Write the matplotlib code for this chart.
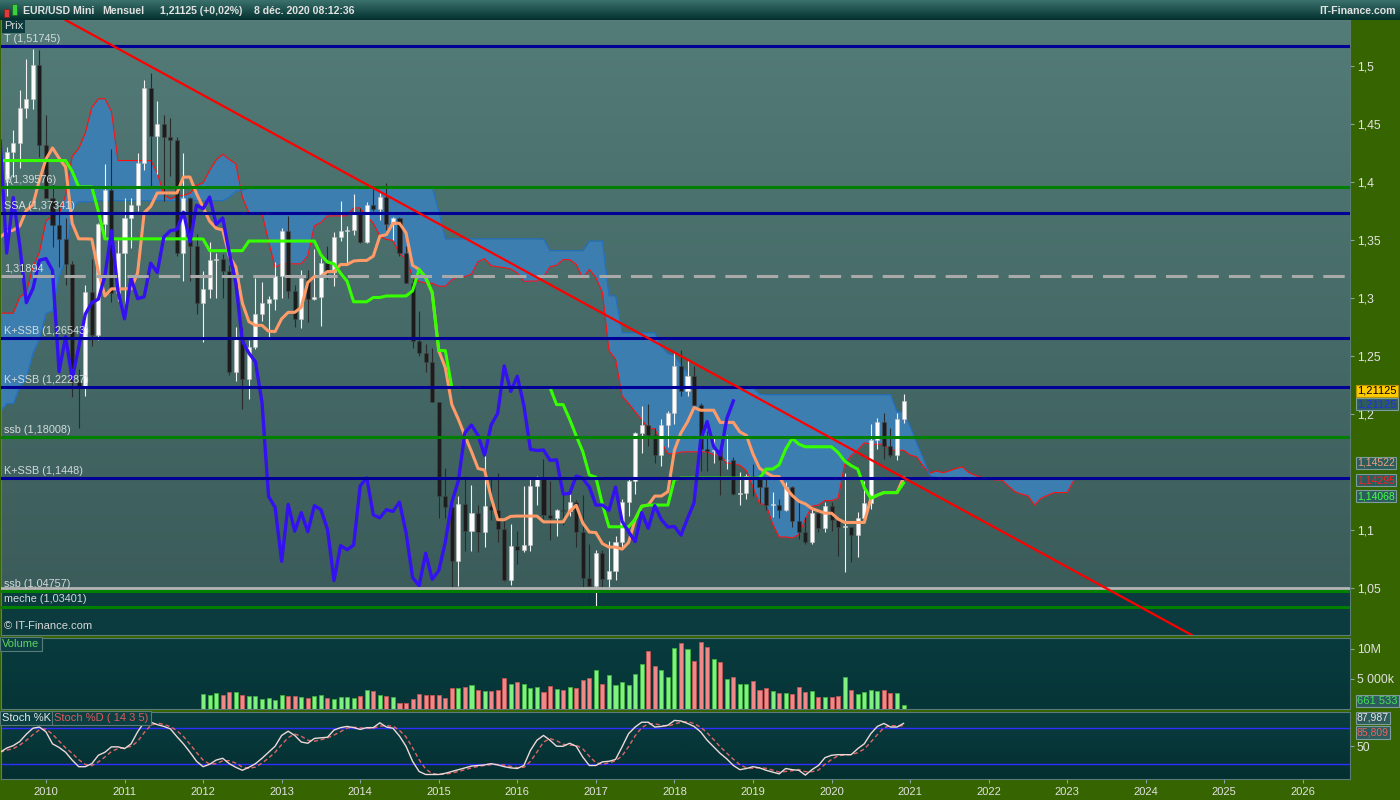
import numpy as np
import pandas as pd
import matplotlib
matplotlib.use('Agg')
import matplotlib.pyplot as plt
import matplotlib.colors as mcolors
from matplotlib.patches import Rectangle

plt.rcParams['font.family'] = ['Liberation Sans', 'DejaVu Sans']

##################################################### Dati

# bougies mensuelles EUR/USD, juillet 2009 -> decembre 2020
debut_bougies = '2009-07'
ouv = [1.4030, 1.4256, 1.4336, 1.4637, 1.4715, 1.5005,
       1.4321, 1.3863, 1.3629, 1.3510, 1.3294, 1.2273, 1.2236, 1.3049, 1.2680, 1.3634, 1.3929, 1.3045,
       1.3384, 1.3693, 1.3806, 1.4164, 1.4807, 1.4395, 1.4500, 1.4392, 1.4360, 1.3387, 1.3866, 1.3450,
       1.2960, 1.3080, 1.3325, 1.3340, 1.3237, 1.2365, 1.2666, 1.2302, 1.2575, 1.2860, 1.2960, 1.2990,
       1.3190, 1.3580, 1.3060, 1.2820, 1.3170, 1.2995, 1.3010, 1.3300, 1.3220, 1.3525, 1.3580, 1.3590,
       1.3740, 1.3485, 1.3800, 1.3770, 1.3870, 1.3635, 1.3690, 1.3390, 1.3130, 1.2630, 1.2525, 1.2450,
       1.2100, 1.1290, 1.1195, 1.0730, 1.1220, 1.0990, 1.1150, 1.0985, 1.1210, 1.1175, 1.1005, 1.0565,
       1.0865, 1.0830, 1.0870, 1.1380, 1.1450, 1.1130, 1.1105, 1.1175, 1.1160, 1.1240, 1.0980, 1.0590,
       1.0520, 1.0800, 1.0575, 1.0650, 1.0895, 1.1240, 1.1425, 1.1840, 1.1905, 1.1815, 1.1645, 1.1905,
       1.2005, 1.2415, 1.2195, 1.2325, 1.2075, 1.1695, 1.1685, 1.1690, 1.1600, 1.1605, 1.1310, 1.1315,
       1.1465, 1.1445, 1.1370, 1.1215, 1.1215, 1.1170, 1.1370, 1.1075, 1.0985, 1.0900, 1.1150, 1.1015,
       1.1210, 1.1090, 1.1025, 1.1030, 1.0955, 1.1100, 1.1235, 1.1775, 1.1935, 1.1720, 1.1645, 1.1960]
haut = [1.4306, 1.4446, 1.4793, 1.5062, 1.5144, 1.5140,
        1.4579, 1.3995, 1.3816, 1.3690, 1.3317, 1.2389, 1.3108, 1.3334, 1.3650, 1.4158, 1.4282, 1.3500,
        1.3862, 1.3862, 1.4249, 1.4882, 1.4940, 1.4699, 1.4578, 1.4548, 1.4386, 1.4247, 1.3870, 1.3550,
        1.3234, 1.3487, 1.3385, 1.3380, 1.3283, 1.2748, 1.2746, 1.2637, 1.3172, 1.3140, 1.3020, 1.3308,
        1.3600, 1.3711, 1.3110, 1.3240, 1.3240, 1.3420, 1.3345, 1.3452, 1.3570, 1.3832, 1.3620, 1.3893,
        1.3775, 1.3825, 1.3967, 1.3905, 1.3993, 1.3700, 1.3700, 1.3445, 1.3160, 1.2890, 1.2600, 1.2570,
        1.2100, 1.1535, 1.1240, 1.1290, 1.1465, 1.1385, 1.1215, 1.1715, 1.1460, 1.1495, 1.1095, 1.1050,
        1.0990, 1.1375, 1.1440, 1.1465, 1.1615, 1.1425, 1.1185, 1.1365, 1.1330, 1.1255, 1.1300, 1.0875,
        1.0830, 1.0830, 1.0905, 1.0950, 1.1270, 1.1445, 1.1845, 1.2070, 1.2090, 1.1880, 1.1960, 1.2025,
        1.2535, 1.2555, 1.2475, 1.2415, 1.2095, 1.1850, 1.1790, 1.1735, 1.1815, 1.1625, 1.1500, 1.1485,
        1.1570, 1.1490, 1.1450, 1.1325, 1.1265, 1.1410, 1.1380, 1.1250, 1.1110, 1.1180, 1.1175, 1.1240,
        1.1240, 1.1100, 1.1495, 1.1030, 1.1155, 1.1425, 1.1910, 1.1965, 1.2010, 1.1880, 1.2005, 1.2175]
bas = [1.3876, 1.4047, 1.4124, 1.4550, 1.4631, 1.4219,
       1.3858, 1.3443, 1.3267, 1.3114, 1.2144, 1.1876, 1.2153, 1.2588, 1.2640, 1.3530, 1.2969, 1.2970,
       1.2871, 1.3430, 1.3750, 1.4100, 1.3967, 1.4070, 1.3837, 1.4050, 1.3360, 1.3145, 1.3145, 1.2858,
       1.2624, 1.3000, 1.3003, 1.3000, 1.2332, 1.2288, 1.2042, 1.2130, 1.2560, 1.2800, 1.2660, 1.2900,
       1.3000, 1.3000, 1.2750, 1.2745, 1.2795, 1.2980, 1.2755, 1.3160, 1.3100, 1.3490, 1.3295, 1.3540,
       1.3475, 1.3475, 1.3750, 1.3670, 1.3590, 1.3500, 1.3365, 1.3130, 1.2570, 1.2500, 1.2360, 1.2100,
       1.1100, 1.1100, 1.0462, 1.0520, 1.0815, 1.0820, 1.0810, 1.0850, 1.1085, 1.0895, 1.0560, 1.0525,
       1.0710, 1.0810, 1.0820, 1.1215, 1.1095, 1.0910, 1.0950, 1.1045, 1.1120, 1.0850, 1.0505, 1.0350,
       1.0340, 1.0495, 1.0495, 1.0570, 1.0840, 1.1120, 1.1310, 1.1665, 1.1720, 1.1575, 1.1555, 1.1715,
       1.1915, 1.2155, 1.2155, 1.2075, 1.1510, 1.1510, 1.1575, 1.1300, 1.1525, 1.1300, 1.1215, 1.1265,
       1.1290, 1.1235, 1.1175, 1.1110, 1.1105, 1.1160, 1.1025, 1.0925, 1.0880, 1.0880, 1.0980, 1.0980,
       1.0990, 1.0780, 1.0635, 1.0725, 1.0765, 1.1080, 1.1185, 1.1700, 1.1610, 1.1625, 1.1600, 1.1925]
clot = [1.4256, 1.4336, 1.4637, 1.4715, 1.5005, 1.4321,
        1.3863, 1.3629, 1.3510, 1.3294, 1.2273, 1.2236, 1.3049, 1.2680, 1.3634, 1.3929, 1.3045, 1.3384,
        1.3693, 1.3806, 1.4164, 1.4807, 1.4395, 1.4500, 1.4392, 1.4360, 1.3387, 1.3866, 1.3450, 1.2960,
        1.3080, 1.3325, 1.3340, 1.3237, 1.2365, 1.2666, 1.2302, 1.2575, 1.2860, 1.2960, 1.2990, 1.3190,
        1.3580, 1.3060, 1.2820, 1.3170, 1.2995, 1.3010, 1.3300, 1.3220, 1.3525, 1.3580, 1.3590, 1.3740,
        1.3485, 1.3800, 1.3770, 1.3870, 1.3635, 1.3690, 1.3390, 1.3130, 1.2630, 1.2525, 1.2450, 1.2100,
        1.1290, 1.1195, 1.0730, 1.1220, 1.0990, 1.1150, 1.0985, 1.1210, 1.1175, 1.1005, 1.0565, 1.0865,
        1.0830, 1.0870, 1.1380, 1.1450, 1.1130, 1.1105, 1.1175, 1.1160, 1.1240, 1.0980, 1.0590, 1.0520,
        1.0800, 1.0575, 1.0650, 1.0895, 1.1240, 1.1425, 1.1840, 1.1905, 1.1815, 1.1645, 1.1905, 1.2005,
        1.2415, 1.2195, 1.2325, 1.2075, 1.1695, 1.1685, 1.1690, 1.1600, 1.1605, 1.1310, 1.1315, 1.1465,
        1.1445, 1.1370, 1.1215, 1.1215, 1.1170, 1.1370, 1.1075, 1.0985, 1.0900, 1.1150, 1.1015, 1.1210,
        1.1090, 1.1025, 1.1030, 1.0955, 1.1100, 1.1235, 1.1775, 1.1935, 1.1720, 1.1645, 1.1960, 1.21125]

# storico piu vecchio (gen 2003 -> giu 2009): solo massimi e minimi, servono per l'Ichimoku
debut_histo = '2003-01'
histo_haut = [1.0845, 1.0935, 1.1080, 1.1235, 1.1935, 1.1935, 1.1640, 1.1470, 1.1690, 1.1880, 1.2020, 1.2650,
              1.2900, 1.2930, 1.2490, 1.2400, 1.2280, 1.2250, 1.2440, 1.2430, 1.2440, 1.2800, 1.3300, 1.3670,
              1.3580, 1.3260, 1.3480, 1.3090, 1.2980, 1.2380, 1.2270, 1.2480, 1.2510, 1.2120, 1.2140, 1.2080,
              1.2330, 1.2150, 1.2300, 1.2640, 1.2980, 1.2880, 1.2840, 1.2940, 1.2890, 1.2780, 1.3230, 1.3360,
              1.3240, 1.3240, 1.3410, 1.3680, 1.3610, 1.3530, 1.3850, 1.3850, 1.4280, 1.4530, 1.4970, 1.4780,
              1.4900, 1.5240, 1.5900, 1.6020, 1.5820, 1.5780, 1.6040, 1.5620, 1.4860, 1.4310, 1.3300, 1.4720,
              1.4030, 1.3100, 1.3740, 1.3460, 1.4190, 1.4340]
histo_bas = [1.0360, 1.0695, 1.0500, 1.0620, 1.1180, 1.1410, 1.1120, 1.0765, 1.0810, 1.1530, 1.1400, 1.1960,
             1.2300, 1.2360, 1.2080, 1.1760, 1.1760, 1.1990, 1.2010, 1.2060, 1.2010, 1.2210, 1.2700, 1.3230,
             1.2950, 1.2760, 1.2890, 1.2770, 1.2310, 1.1870, 1.1640, 1.2080, 1.1990, 1.1870, 1.1640, 1.1700,
             1.1800, 1.1820, 1.1860, 1.2070, 1.2590, 1.2460, 1.2450, 1.2700, 1.2620, 1.2480, 1.2690, 1.3090,
             1.2860, 1.2880, 1.3080, 1.3320, 1.3350, 1.3270, 1.3450, 1.3260, 1.3580, 1.4080, 1.4410, 1.4340,
             1.4440, 1.4510, 1.5100, 1.5520, 1.5300, 1.5280, 1.5580, 1.4580, 1.3880, 1.2330, 1.2420, 1.2600,
             1.2760, 1.2450, 1.2460, 1.2890, 1.3250, 1.3740]

# volumi (milioni), gen 2012 -> dic 2020
debut_volume = '2012-01'
volumes = [2.5, 2.33, 2.6, 2.4, 2.8, 2.8, 2.3, 2.2, 2.2, 1.67, 1.83, 1.5,
           2.3, 2.2, 2.2, 2.0, 1.9, 2.2, 2.4, 1.9, 1.7, 2.0, 2.0, 1.8,
           2.2, 3.2, 3.0, 2.4, 2.2, 2.0, 1.0, 1.0, 1.7, 2.5, 2.4, 2.4,
           2.4, 1.8, 3.5, 3.5, 3.7, 4.0, 3.2, 3.0, 3.0, 3.2, 5.1, 4.2,
           4.5, 4.2, 3.5, 3.7, 2.8, 3.8, 3.3, 3.2, 3.7, 3.5, 4.9, 5.2,
           6.5, 4.2, 5.7, 4.0, 4.5, 4.0, 5.8, 7.5, 9.7, 7.2, 6.5, 5.3,
           10.2, 11.0, 10.0, 8.0, 11.2, 10.3, 8.3, 7.8, 5.0, 5.3, 4.2, 4.2,
           4.7, 3.2, 3.5, 3.0, 2.7, 2.7, 2.5, 3.7, 2.8, 3.0, 2.0, 2.0,
           2.0, 2.2, 5.3, 3.2, 2.5, 2.8, 3.2, 3.0, 3.2, 2.7, 2.7, 0.661533]

# stochastique %K, juin 2009 -> dec 2020
debut_stoch = '2009-06'
stoch_k = [40, 47, 51, 58, 70, 80, 82,
           74, 54, 48, 40, 27, 16, 16, 21, 35, 40, 49, 49,
           46, 54, 74, 90, 90, 86, 83, 79, 66, 54, 40, 25,
           16, 20, 27, 30, 21, 15, 10, 15, 21, 30, 40, 50,
           68, 75, 68, 57, 55, 63, 64, 65, 77, 81, 83, 81,
           78, 81, 81, 89, 82, 80, 67, 50, 25, 8, 3, 3,
           3, 5, 8, 11, 14, 17, 18, 19, 21, 19, 16, 14,
           13, 18, 43, 60, 68, 60, 50, 50, 55, 50, 32, 18,
           18, 24, 25, 28, 49, 71, 82, 90, 90, 82, 83, 85,
           93, 92, 88, 83, 74, 60, 49, 38, 29, 18, 11, 13,
           16, 14, 10, 7, 4, 13, 11, 10, 2, 11, 18, 31,
           35, 36, 36, 36, 46, 54, 71, 83, 88, 82, 82, 87.987]

# livelli orizzontali tracciati a mano
livelli = [1.51745, 1.39576, 1.37341, 1.31894, 1.26543, 1.22287, 1.18008, 1.1448, 1.04757, 1.03401]
livelli_testo = ['T (1,51745)', 'k(1,39576)', 'SSA (1,37341)', '1,31894', 'K+SSB (1,26543)',
                 'K+SSB (1,22287)', 'ssb (1,18008)', 'K+SSB (1,1448)', 'ssb (1,04757)', 'meche (1,03401)']
livelli_tipo = ['blu', 'verde', 'blu', 'grigio', 'blu', 'blu', 'verde', 'blu', 'verde', 'verde']
riga_grigia = 1.0497

# droite de tendance (deux points)
tend_mois = ['2010-01', '2025-01']
tend_prix = [1.5489, 0.9941]

anni = list(range(2010, 2027))
# graduations de prix (1,15 est caché par les cartouches dans l'original)
tick_p = [1.05, 1.1, 1.2, 1.25, 1.3, 1.35, 1.4, 1.45, 1.5]


def mese(s):
    a, m = s.split('-')
    return (int(a) - 2010) * 12 + int(m) - 1


def fondo(ax, c_alto, c_basso):
    t = np.linspace(0, 1, 200)[:, None, None]
    c1 = np.array(mcolors.to_rgb(c_alto))[None, None, :]
    c2 = np.array(mcolors.to_rgb(c_basso))[None, None, :]
    ax.imshow(c1 * (1 - t) + c2 * t, extent=[0, 1, 0, 1], transform=ax.transAxes,
              aspect='auto', zorder=0)


def etichetta(ax, testo, y, dy, col, fc='#2c5d5c', ec='#7d9c9b', fs=8):
    ax.annotate(testo, xy=(1, y), xycoords=('axes fraction', 'data'), xytext=(5, dy),
                textcoords='offset points', ha='left', va='center', fontsize=fs,
                color=col, annotation_clip=False, zorder=20,
                bbox=dict(boxstyle='square,pad=0.12', fc=fc, ec=ec, lw=0.8))


o = np.array(ouv); h = np.array(haut); l = np.array(bas); c = np.array(clot)
x = mese(debut_bougies) + np.arange(len(c))

H = pd.Series(histo_haut + haut)
L = pd.Series(histo_bas + bas)
x_all = mese(debut_histo) + np.arange(len(H))
tenkan = (H.rolling(9).max() + L.rolling(9).min()) / 2
kijun = (H.rolling(26).max() + L.rolling(26).min()) / 2
ssa = (tenkan + kijun) / 2
ssb = (H.rolling(52).max() + L.rolling(52).min()) / 2

xlim = (-6.87, 199.2)
ylim_p = (1.00948, 1.53966)

fig = plt.figure(figsize=(14, 8), dpi=100, facecolor='#356400')
sx = 1 / 1400
lw_ = 1349 / 1400
ax_p = fig.add_axes([sx, 1 - 635 / 800, lw_, 615 / 800])
ax_v = fig.add_axes([sx, 1 - 709 / 800, lw_, 71 / 800])
ax_s = fig.add_axes([sx, 1 - 779 / 800, lw_, 67 / 800])
ax_t = fig.add_axes([0, 1 - 20 / 800, 1, 20 / 800])

# barra del titolo
fondo(ax_t, '#3b726d', '#03302e')
ax_t.set_axis_off()
fig.add_artist(Rectangle((4 * sx, 1 - 17 / 800), 5 * sx, 8 / 800, transform=fig.transFigure,
                         fc='#e03a3a', ec='#802020', lw=0.5))
fig.add_artist(Rectangle((12 * sx, 1 - 15 / 800), 5 * sx, 11 / 800, transform=fig.transFigure,
                         fc='#3ad23a', ec='#206020', lw=0.5))
for xx, tt in zip([23, 102, 160, 254], ['EUR/USD Mini', 'Mensuel', '1,21125 (+0,02%)', '8 déc. 2020 08:12:36']):
    fig.text(xx * sx, 1 - 11 / 800, tt, color='#e2e2e2', fontsize=7.6, fontweight='bold', va='center')
fig.text(1396 * sx, 1 - 11 / 800, 'IT-Finance.com', color='#e2e2e2', fontsize=7.6,
         fontweight='bold', va='center', ha='right')

#################################################### Prezzo
fondo(ax_p, '#537b77', '#395a58')
ax_p.axhspan(0.9, 1.04757, color='#0b3b3e', zorder=0.5)

ax_p.fill_between(x_all + 26, ssa, ssb, color='#3d7eb1', lw=0, zorder=1)
ax_p.plot(x_all + 26, ssa, color='#ff1010', lw=0.8, zorder=1.5)
ax_p.plot(x_all + 26, ssb, color='#1f6fc6', lw=0.8, zorder=1.5)

su = c >= o
corpo = np.maximum(np.abs(c - o), 0.0006)
ax_p.vlines(x[su], l[su], h[su], color='#f2f2f2', lw=0.8, zorder=2)
ax_p.vlines(x[~su], l[~su], h[~su], color='#2b2b2b', lw=0.8, zorder=2)
ax_p.bar(x[su], corpo[su], bottom=np.minimum(o, c)[su], width=0.62, color='#fbfbfb',
         edgecolor='#c4c4c4', lw=0.4, zorder=2.1)
ax_p.bar(x[~su], corpo[~su], bottom=np.minimum(o, c)[~su], width=0.62, color='#1c1c1c',
         edgecolor='#474747', lw=0.4, zorder=2.1)

ax_p.plot(x_all, tenkan, color='#ff9b68', lw=2.2, zorder=3)
ax_p.plot(x_all, kijun, color='#36ff00', lw=2.2, zorder=3)
ax_p.plot(x - 26, c, color='#3411f0', lw=2.4, zorder=3)

colori = {'blu': '#000096', 'verde': '#008000', 'grigio': '#a9a9a9'}
ax_p.axhline(riga_grigia, color='#b4b4b4', lw=2.0, zorder=4)
for yv, tt, kk in zip(livelli, livelli_testo, livelli_tipo):
    if kk == 'grigio':
        ax_p.axhline(yv, color=colori[kk], lw=2.2, ls=(0, (7, 3.3)), zorder=4)
    else:
        ax_p.axhline(yv, color=colori[kk], lw=2.2, zorder=4)
    ax_p.annotate(tt, xy=(0, yv), xycoords=('axes fraction', 'data'), xytext=(2, 1.6),
                  textcoords='offset points', ha='left', va='bottom', fontsize=7.8,
                  color='#d3dcdb', zorder=6)

ax_p.plot([mese(s) for s in tend_mois], tend_prix, color='#ff0000', lw=1.6, zorder=5)

ax_p.text(0.002, 0.998, 'Prix', transform=ax_p.transAxes, ha='left', va='top', fontsize=8,
          color='#d8d8d8', zorder=7, bbox=dict(boxstyle='square,pad=0.15', fc='#0b3b3e', ec='none'))
ax_p.text(0.002, 0.006, '© IT-Finance.com', transform=ax_p.transAxes, ha='left', va='bottom',
          fontsize=8, color='#d8d8d8', zorder=7)

ax_p.set_xlim(xlim)
ax_p.set_ylim(ylim_p)
ax_p.set_yticks(tick_p)
ax_p.set_yticklabels([('%g' % v).replace('.', ',') for v in tick_p])
ax_p.get_yticklabels()[-1].set_fontweight('bold')

# cartellini a destra (impilati senza sovrapporsi)
etichetta(ax_p, '1,21125', 1.21125, 7.2, 'black', fc='#ffcc00', ec='#b89400')
etichetta(ax_p, '1,21125', 1.21125, -2.2, '#2a2af0')
etichetta(ax_p, '1,14522', 1.14522, 10.5, '#f0a07c', fs=7.5)
etichetta(ax_p, '1,14295', 1.14295, 0, '#ff2020', fs=7.5)
etichetta(ax_p, '1,14068', 1.14068, -9.5, '#45ff45', fs=7.5)

#################################################### Volume
fondo(ax_v, '#083b3e', '#063537')
xv = mese(debut_volume) + np.arange(len(volumes))
vol = np.array(volumes)
idx = xv - x[0]
col_v = np.where(su[idx], '#80f080', '#f08888')
bord_v = np.where(su[idx], '#3fae3f', '#c25454')
ax_v.bar(xv, vol, width=0.62, color=col_v, edgecolor=bord_v, lw=0.6, zorder=2)
ax_v.text(0.001, 0.985, 'Volume', transform=ax_v.transAxes, ha='left', va='top', fontsize=8,
          color='#5fd35f', zorder=7, bbox=dict(boxstyle='square,pad=0.2', fc='#0b3f42', ec='#5a7a7a', lw=0.8))
ax_v.set_xlim(xlim)
ax_v.set_ylim(0, 11.83)
ax_v.set_yticks([5, 10])
ax_v.set_yticklabels(['5 000k', '10M'])
etichetta(ax_v, '661 533', volumes[-1], 3, '#47dc58')

#################################################### Stochastique
fondo(ax_s, '#0a3d40', '#042f31')
xs = mese(debut_stoch) + np.arange(len(stoch_k))
k = pd.Series(stoch_k, dtype=float)
d = k.rolling(3, min_periods=1).mean()
ax_s.axhline(80, color='#2e2eff', lw=1.0, zorder=1)
ax_s.axhline(20, color='#2e2eff', lw=1.0, zorder=1)
ax_s.plot(xs, d, color='#df6464', lw=1.0, ls=(0, (3, 2)), zorder=2)
ax_s.plot(xs, k, color='#eed9d9', lw=1.0, zorder=3)
ax_s.text(0.001, 0.985, 'Stoch %K', transform=ax_s.transAxes, ha='left', va='top', fontsize=8,
          color='#e8e8e8', zorder=7, bbox=dict(boxstyle='square,pad=0.2', fc='#0b3f42', ec='#5a7a7a', lw=0.8))
ax_s.text(0.0395, 0.985, 'Stoch %D ( 14 3 5)', transform=ax_s.transAxes, ha='left', va='top',
          fontsize=8, color='#e05a5a', zorder=7,
          bbox=dict(boxstyle='square,pad=0.2', fc='#0b3f42', ec='#5a7a7a', lw=0.8))
ax_s.set_xlim(xlim)
ax_s.set_ylim(-4.5, 107)
ax_s.set_yticks([50])
ax_s.set_yticklabels(['50'])
ax_s.set_xticks([mese('%d-01' % a) for a in anni])
ax_s.set_xticklabels([str(a) for a in anni])
etichetta(ax_s, '87,987', stoch_k[-1], 4, '#f3e3e3', fs=7.5)
etichetta(ax_s, '85,809', 85.809, -5.5, '#ee6262', fs=7.5)

for ax in (ax_p, ax_v, ax_s):
    ax.yaxis.tick_right()
    ax.tick_params(axis='y', direction='out', length=3, width=0.8, color='#8aa4a2',
                   labelcolor='#e2e2e2', labelsize=8.8, pad=2)
    for sp in ax.spines.values():
        sp.set_color('#5b7b79')
        sp.set_linewidth(0.8)
for ax in (ax_p, ax_v):
    ax.tick_params(axis='x', bottom=False, labelbottom=False)
ax_s.tick_params(axis='x', direction='out', length=3, width=0.8, color='#8aa4a2',
                 labelcolor='#e2e2e2', labelsize=8, pad=3)

fig.savefig('out.png', dpi=100, facecolor=fig.get_facecolor())
